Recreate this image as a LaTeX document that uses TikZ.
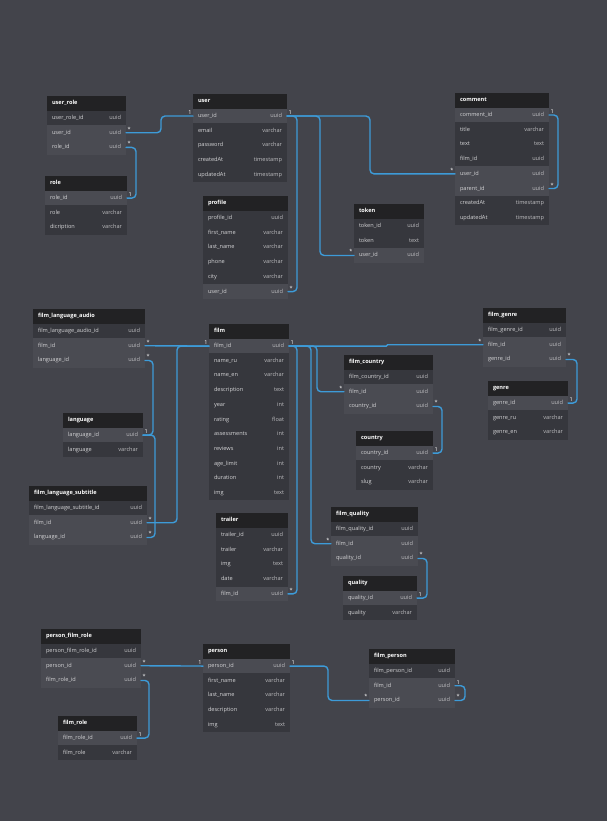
\documentclass[tikz,border=0pt]{standalone}
\usepackage{fontspec}
\setmainfont{Open Sans}
\usetikzlibrary{positioning}

\definecolor{bgc}{HTML}{43444B}
\definecolor{headc}{HTML}{222224}
\definecolor{lightc}{HTML}{4A4B52}
\definecolor{darkc}{HTML}{36373D}
\definecolor{relc}{HTML}{3D9BD8}
\definecolor{fieldc}{HTML}{D4D4D6}
\definecolor{typec}{HTML}{BDBDC0}

\tikzset{
  tbl/.style={anchor=north west, minimum height=14.7pt, inner xsep=5pt, inner ysep=0pt,
    outer sep=0pt, text width=#1, text height=4.3pt, text depth=1.3pt,
    font=\fontsize{5.6}{6}\selectfont, text=fieldc},
  hdr/.style={tbl=#1, fill=headc, text=white, font=\fontsize{5.6}{6}\selectfont\bfseries},
  lrow/.style={tbl=#1, fill=lightc},
  drow/.style={tbl=#1, fill=darkc},
  rel/.style={draw=relc, line width=1.4pt, rounded corners=4pt, line cap=round},
  card/.style={font=\fontsize{5.5}{6}\selectfont, text=white, inner sep=0.8pt},
}
\newcommand{\ty}[1]{\hfill{\color{typec}#1}}

\begin{document}
\begin{tikzpicture}[x=1pt,y=-1pt]

 \fill[bgc] (0,0) rectangle (607,821);
 \useasboundingbox (0,0) rectangle (607,821);

 % user_role
 \node[hdr=69pt] (ur) at (47,96) {user\_role};
 \node[drow=69pt, below=0pt of ur] (ur_id) {user\_role\_id\ty{uuid}};
 \node[lrow=69pt, below=0pt of ur_id] (ur_uid) {user\_id\ty{uuid}};
 \node[lrow=69pt, below=0pt of ur_uid] (ur_rid) {role\_id\ty{uuid}};

 % role
 \node[hdr=72pt] (ro) at (45,176) {role};
 \node[lrow=72pt, below=0pt of ro] (ro_rid) {role\_id\ty{uuid}};
 \node[drow=72pt, below=0pt of ro_rid] (ro_role) {role\ty{varchar}};
 \node[drow=72pt, below=0pt of ro_role] (ro_desc) {dicription\ty{varchar}};

 % user
 \node[hdr=84pt] (us) at (193,94) {user};
 \node[lrow=84pt, below=0pt of us] (us_uid) {user\_id\ty{uuid}};
 \node[drow=84pt, below=0pt of us_uid] (us_mail) {email\ty{varchar}};
 \node[drow=84pt, below=0pt of us_mail] (us_pw) {password\ty{varchar}};
 \node[drow=84pt, below=0pt of us_pw] (us_cr) {createdAt\ty{timestamp}};
 \node[drow=84pt, below=0pt of us_cr] (us_up) {updatedAt\ty{timestamp}};

 % profile
 \node[hdr=75pt] (pr) at (203,196) {profile};
 \node[drow=75pt, below=0pt of pr] (pr_id) {profile\_id\ty{uuid}};
 \node[drow=75pt, below=0pt of pr_id] (pr_fn) {first\_name\ty{varchar}};
 \node[drow=75pt, below=0pt of pr_fn] (pr_ln) {last\_name\ty{varchar}};
 \node[drow=75pt, below=0pt of pr_ln] (pr_ph) {phone\ty{varchar}};
 \node[drow=75pt, below=0pt of pr_ph] (pr_city) {city\ty{varchar}};
 \node[lrow=75pt, below=0pt of pr_city] (pr_uid) {user\_id\ty{uuid}};

 % comment
 \node[hdr=84pt] (cm) at (455,93) {comment};
 \node[lrow=84pt, below=0pt of cm] (cm_cid) {comment\_id\ty{uuid}};
 \node[drow=84pt, below=0pt of cm_cid] (cm_title) {title\ty{varchar}};
 \node[drow=84pt, below=0pt of cm_title] (cm_text) {text\ty{text}};
 \node[drow=84pt, below=0pt of cm_text] (cm_fid) {film\_id\ty{uuid}};
 \node[lrow=84pt, below=0pt of cm_fid] (cm_uid) {user\_id\ty{uuid}};
 \node[lrow=84pt, below=0pt of cm_uid] (cm_pid) {parent\_id\ty{uuid}};
 \node[drow=84pt, below=0pt of cm_pid] (cm_cr) {createdAt\ty{timestamp}};
 \node[drow=84pt, below=0pt of cm_cr] (cm_up) {updatedAt\ty{timestamp}};

 % token
 \node[hdr=60pt] (tk) at (354,204) {token};
 \node[drow=60pt, below=0pt of tk] (tk_id) {token\_id\ty{uuid}};
 \node[drow=60pt, below=0pt of tk_id] (tk_tok) {token\ty{text}};
 \node[lrow=60pt, below=0pt of tk_tok] (tk_uid) {user\_id\ty{uuid}};

 % film_language_audio
 \node[hdr=102pt] (fla) at (33,309) {film\_language\_audio};
 \node[drow=102pt, below=0pt of fla] (fla_id) {film\_language\_audio\_id\ty{uuid}};
 \node[lrow=102pt, below=0pt of fla_id] (fla_fid) {film\_id\ty{uuid}};
 \node[lrow=102pt, below=0pt of fla_fid] (fla_lid) {language\_id\ty{uuid}};

 % film
 \node[hdr=70pt] (fi) at (209,324) {film};
 \node[lrow=70pt, below=0pt of fi] (fi_fid) {film\_id\ty{uuid}};
 \node[drow=70pt, below=0pt of fi_fid] (fi_ru) {name\_ru\ty{varchar}};
 \node[drow=70pt, below=0pt of fi_ru] (fi_en) {name\_en\ty{varchar}};
 \node[drow=70pt, below=0pt of fi_en] (fi_desc) {description\ty{text}};
 \node[drow=70pt, below=0pt of fi_desc] (fi_year) {year\ty{int}};
 \node[drow=70pt, below=0pt of fi_year] (fi_rat) {rating\ty{float}};
 \node[drow=70pt, below=0pt of fi_rat] (fi_ass) {assessments\ty{int}};
 \node[drow=70pt, below=0pt of fi_ass] (fi_rev) {reviews\ty{int}};
 \node[drow=70pt, below=0pt of fi_rev] (fi_age) {age\_limit\ty{int}};
 \node[drow=70pt, below=0pt of fi_age] (fi_dur) {duration\ty{int}};
 \node[drow=70pt, below=0pt of fi_dur] (fi_img) {img\ty{text}};

 % language
 \node[hdr=70pt] (la) at (63,413) {language};
 \node[lrow=70pt, below=0pt of la] (la_lid) {language\_id\ty{uuid}};
 \node[drow=70pt, below=0pt of la_lid] (la_lang) {language\ty{varchar}};

 % film_language_subtitle
 \node[hdr=108pt] (fls) at (29,486) {film\_language\_subtitle};
 \node[drow=108pt, below=0pt of fls] (fls_id) {film\_language\_subtitle\_id\ty{uuid}};
 \node[lrow=108pt, below=0pt of fls_id] (fls_fid) {film\_id\ty{uuid}};
 \node[lrow=108pt, below=0pt of fls_fid] (fls_lid) {language\_id\ty{uuid}};

 % trailer
 \node[hdr=62pt] (tr) at (216,513) {trailer};
 \node[drow=62pt, below=0pt of tr] (tr_id) {trailer\_id\ty{uuid}};
 \node[drow=62pt, below=0pt of tr_id] (tr_tr) {trailer\ty{varchar}};
 \node[drow=62pt, below=0pt of tr_tr] (tr_img) {img\ty{text}};
 \node[drow=62pt, below=0pt of tr_img] (tr_date) {date\ty{varchar}};
 \node[lrow=62pt, below=0pt of tr_date] (tr_fid) {film\_id\ty{uuid}};

 % film_genre
 \node[hdr=73pt] (fg) at (483,308) {film\_genre};
 \node[drow=73pt, below=0pt of fg] (fg_id) {film\_genre\_id\ty{uuid}};
 \node[lrow=73pt, below=0pt of fg_id] (fg_fid) {film\_id\ty{uuid}};
 \node[lrow=73pt, below=0pt of fg_fid] (fg_gid) {genre\_id\ty{uuid}};

 % film_country
 \node[hdr=79pt] (fc) at (344,355) {film\_country};
 \node[drow=79pt, below=0pt of fc] (fc_id) {film\_country\_id\ty{uuid}};
 \node[lrow=79pt, below=0pt of fc_id] (fc_fid) {film\_id\ty{uuid}};
 \node[lrow=79pt, below=0pt of fc_fid] (fc_cid) {country\_id\ty{uuid}};

 % genre
 \node[hdr=70pt] (ge) at (488,381) {genre};
 \node[lrow=70pt, below=0pt of ge] (ge_gid) {genre\_id\ty{uuid}};
 \node[drow=70pt, below=0pt of ge_gid] (ge_ru) {genre\_ru\ty{varchar}};
 \node[drow=70pt, below=0pt of ge_ru] (ge_en) {genre\_en\ty{varchar}};

 % country
 \node[hdr=67pt] (co) at (356,431) {country};
 \node[lrow=67pt, below=0pt of co] (co_cid) {country\_id\ty{uuid}};
 \node[drow=67pt, below=0pt of co_cid] (co_co) {country\ty{varchar}};
 \node[drow=67pt, below=0pt of co_co] (co_slug) {slug\ty{varchar}};

 % film_quality
 \node[hdr=77pt] (fq) at (331,507) {film\_quality};
 \node[drow=77pt, below=0pt of fq] (fq_id) {film\_quality\_id\ty{uuid}};
 \node[lrow=77pt, below=0pt of fq_id] (fq_fid) {film\_id\ty{uuid}};
 \node[lrow=77pt, below=0pt of fq_fid] (fq_qid) {quality\_id\ty{uuid}};

 % quality
 \node[hdr=64pt] (qu) at (343,576) {quality};
 \node[lrow=64pt, below=0pt of qu] (qu_qid) {quality\_id\ty{uuid}};
 \node[drow=64pt, below=0pt of qu_qid] (qu_q) {quality\ty{varchar}};

 % film_person
 \node[hdr=76pt] (fp) at (369,649) {film\_person};
 \node[drow=76pt, below=0pt of fp] (fp_id) {film\_person\_id\ty{uuid}};
 \node[lrow=76pt, below=0pt of fp_id] (fp_fid) {film\_id\ty{uuid}};
 \node[lrow=76pt, below=0pt of fp_fid] (fp_pid) {person\_id\ty{uuid}};

 % person_film_role
 \node[hdr=90pt] (pfr) at (41,629) {person\_film\_role};
 \node[drow=90pt, below=0pt of pfr] (pfr_id) {person\_film\_role\_id\ty{uuid}};
 \node[lrow=90pt, below=0pt of pfr_id] (pfr_pid) {person\_id\ty{uuid}};
 \node[lrow=90pt, below=0pt of pfr_pid] (pfr_rid) {film\_role\_id\ty{uuid}};

 % person
 \node[hdr=77pt] (pe) at (203,644) {person};
 \node[lrow=77pt, below=0pt of pe] (pe_pid) {person\_id\ty{uuid}};
 \node[drow=77pt, below=0pt of pe_pid] (pe_fn) {first\_name\ty{varchar}};
 \node[drow=77pt, below=0pt of pe_fn] (pe_ln) {last\_name\ty{varchar}};
 \node[drow=77pt, below=0pt of pe_ln] (pe_desc) {description\ty{varchar}};
 \node[drow=77pt, below=0pt of pe_desc] (pe_img) {img\ty{text}};

 % film_role
 \node[hdr=69pt] (fr) at (58,716) {film\_role};
 \node[lrow=69pt, below=0pt of fr] (fr_rid) {film\_role\_id\ty{uuid}};
 \node[drow=69pt, below=0pt of fr_rid] (fr_role) {film\_role\ty{varchar}};

 % relations of user
 \draw[rel] (us_uid.west) node[card, anchor=south east] (k1) {1}
   -- ([xshift=-32pt]us_uid.west) |- (ur_uid.east) node[card, anchor=south west] (k2) {*};
 \draw[rel] (us_uid.east) node[card, anchor=south west] (k3) {1}
   -- ([xshift=10pt]us_uid.east) |- (pr_uid.east) node[card, anchor=south west] (k4) {*};
 \draw[rel] (us_uid.east) -- ([xshift=33pt]us_uid.east) |- (tk_uid.west) node[card, anchor=south east] (k5) {*};
 \draw[rel] (us_uid.east) -- ([xshift=83pt]us_uid.east) |- (cm_uid.west) node[card, anchor=south east] (k6) {*};
 \draw[rel] (ur_rid.east) node[card, anchor=south west] (k7) {*}
   -- ([xshift=10pt]ur_rid.east) |- (ro_rid.east) node[card, anchor=south west] (k8) {1};
 \draw[rel] (cm_cid.east) node[card, anchor=south west] (k9) {1}
   -- ([xshift=9pt]cm_cid.east) |- (cm_pid.east) node[card, anchor=south west] (k10) {*};

 % relations of film
 \draw[rel] (fi_fid.west) node[card, anchor=south east] (k11) {1}
   -- (fla_fid.east) node[card, anchor=south west] (k12) {*};
 \draw[rel] (fi_fid.west) -- ([xshift=-32pt]fi_fid.west) |- (fls_fid.east) node[card, anchor=south west] (k13) {*};
 \draw[rel] (fla_lid.east) node[card, anchor=south west] (k14) {*}
   -- ([xshift=8pt]fla_lid.east) |- (la_lid.east) node[card, anchor=south west] (k15) {1};
 \draw[rel] (la_lid.east) -- ([xshift=12pt]la_lid.east) |- (fls_lid.east) node[card, anchor=south west] (k16) {*};
 \draw[rel] (fi_fid.east) node[card, anchor=south west] (k17) {1}
   -- ([xshift=8pt]fi_fid.east) |- (tr_fid.east) node[card, anchor=south west] (k18) {*};
 \draw[rel] (fi_fid.east) -- ([xshift=22pt]fi_fid.east) |- (fq_fid.west) node[card, anchor=south east] (k19) {*};
 \draw[rel] (fi_fid.east) -- ([xshift=28pt]fi_fid.east) |- (fc_fid.west) node[card, anchor=south east] (k20) {*};
 \draw[rel, rounded corners=0.6pt] (fi_fid.east) -- ([xshift=98pt]fi_fid.east) |- (fg_fid.west) node[card, anchor=south east] (k21) {*};
 \draw[rel] (fc_cid.east) node[card, anchor=south west] (k22) {*}
   -- ([xshift=9pt]fc_cid.east) |- (co_cid.east) node[card, anchor=south west] (k23) {1};
 \draw[rel] (fg_gid.east) node[card, anchor=south west] (k24) {*}
   -- ([xshift=11pt]fg_gid.east) |- (ge_gid.east) node[card, anchor=south west] (k25) {1};
 \draw[rel] (fq_qid.east) node[card, anchor=south west] (k26) {*}
   -- ([xshift=9pt]fq_qid.east) |- (qu_qid.east) node[card, anchor=south west] (k27) {1};

 % relations of person
 \draw[rel] (pe_pid.west) node[card, anchor=south east] (k28) {1}
   -- (pfr_pid.east) node[card, anchor=south west] (k29) {*};
 \draw[rel] (pfr_rid.east) node[card, anchor=south west] (k30) {*}
   -- ([xshift=8pt]pfr_rid.east) |- (fr_rid.east) node[card, anchor=south west] (k31) {1};
 \draw[rel] (pe_pid.east) node[card, anchor=south west] (k32) {1}
   -- ([xshift=38pt]pe_pid.east) |- (fp_pid.west) node[card, anchor=south east] (k33) {*};
 \draw[rel] (fp_fid.east) node[card, anchor=south west] (k34) {1}
   -- ([xshift=10pt]fp_fid.east) |- (fp_pid.east) node[card, anchor=south west] (k35) {*};

\end{tikzpicture}
\end{document}
